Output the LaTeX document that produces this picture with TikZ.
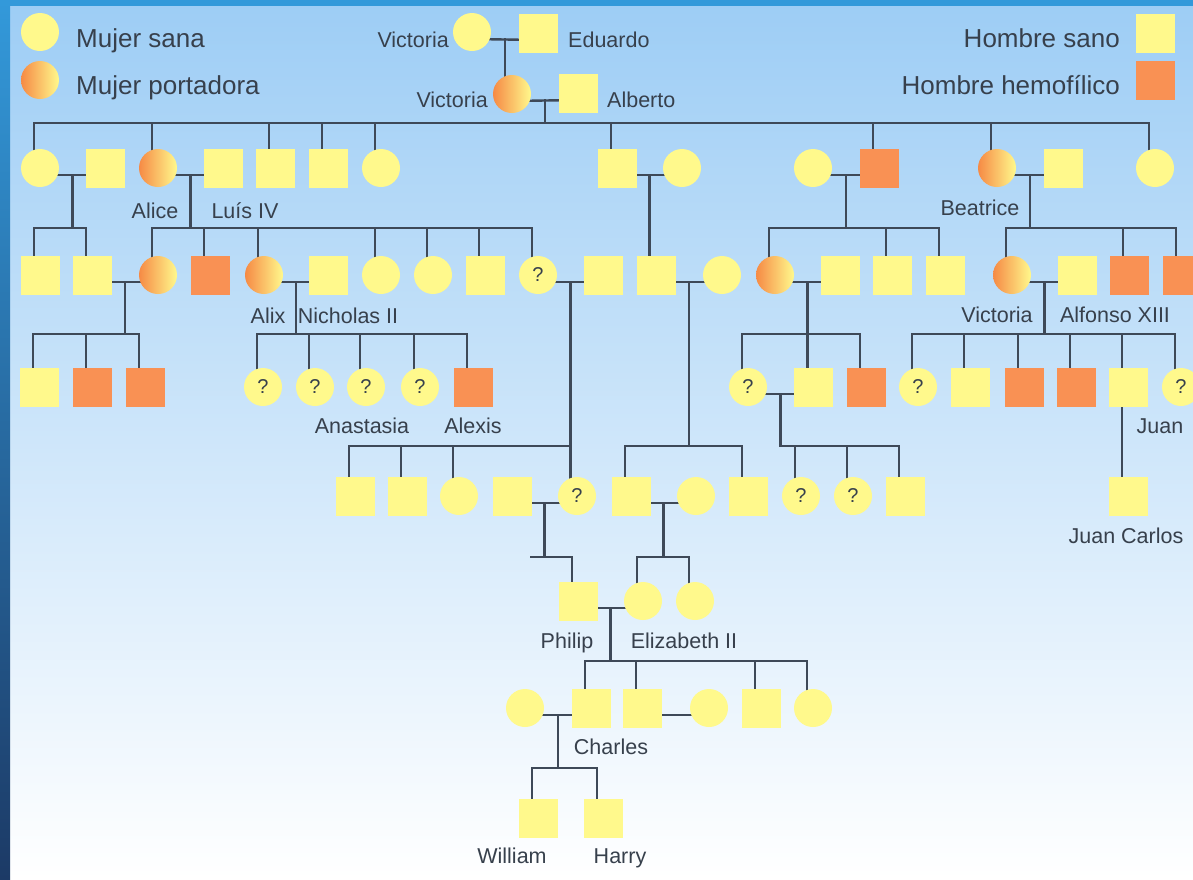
\documentclass[tikz,border=0pt]{standalone}
\usepackage{fontspec}
\setmainfont{Liberation Sans}
\usetikzlibrary{calc}
\pgfdeclarelayer{bg}
\pgfsetlayers{bg,main}
\definecolor{yel}{HTML}{FFF98C}
\definecolor{ora}{HTML}{F99154}
\definecolor{orc}{HTML}{F68A45}
\definecolor{lin}{HTML}{3E4958}
\definecolor{txt}{HTML}{37404C}
\definecolor{sky}{HTML}{9DCDF5}
\definecolor{bord}{HTML}{3399DA}
\definecolor{navy}{HTML}{1C3A66}
\tikzset{
 sh/.style={inner sep=0pt, outer sep=0pt, draw=none},
 sqY/.style={sh, rectangle, minimum size=39pt, fill=yel},
 sqO/.style={sh, rectangle, minimum size=39pt, fill=ora},
 cY/.style={sh, circle, minimum size=38pt, fill=yel},
 cC/.style={sh, circle, minimum size=38pt, left color=orc, right color=yel},
 cQ/.style={cY, font=\fontsize{20pt}{22pt}\selectfont, text=txt},
 lbl/.style={inner sep=0pt, text=txt, font=\fontsize{21.5pt}{24pt}\selectfont},
 leg/.style={inner sep=0pt, text=txt, font=\fontsize{26pt}{30pt}\selectfont},
 ln/.style={draw=lin, line width=2.4pt, line cap=rect},
}
\newcommand\dropl[2]{\draw[ln] ($(#1)+(-6,0)$) -- ($(#1 |- #2)+(-6,0)$);}
\newcommand\barl[3]{\draw[ln] ($(#1 |- #3)+(-6,0)$) -- ($(#2 |- #3)+(-6,0)$);}
\newcommand\mrg[2]{\draw[ln] ($(#1)+(0,7)$) -- ($(#2)+(0,7)$);}
\newcommand\famc[3]{\coordinate (#3) at ($(#1)!.5!(#2)+(0,7)$);}
\begin{document}
\begin{tikzpicture}[x=1pt,y=-1pt]
\useasboundingbox (0,0) rectangle (1193,879);
% legend
\node[cY] (L1) at (40,32) {};
\node[cC] (L2) at (40,80) {};
\node[sqY] (L3) at (1155,33) {};
\node[sqO] (L4) at (1155,80) {};
\node[leg, anchor=base west] (t1) at (76,47) {Mujer sana};
\node[leg, anchor=base west] (t2) at (76,94) {Mujer portadora};
\node[leg, anchor=base east] (t3) at (1120,47) {Hombre sano};
\node[leg, anchor=base east] (t4) at (1120,94) {Hombre hemofílico};
% gen 0
\node[cY] (v0) at (472,32) {};
\node[sqY] (e0) at (538,33) {};
\node[lbl, anchor=base east] (n1) at (449,47) {Victoria};
\node[lbl, anchor=base west] (n2) at (568,47) {Eduardo};
% gen 1
\node[cC] (v1) at (512,94) {};
\node[sqY] (a1) at (578,93) {};
\node[lbl, anchor=base east] (n3) at (488,107) {Victoria};
\node[lbl, anchor=base west] (n4) at (607,107) {Alberto};
% gen 2
\node[cY] (g2a) at (40,168) {};
\node[sqY] (g2b) at (105,168) {};
\node[cC] (alice) at (158,168) {};
\node[sqY] (luis) at (223,168) {};
\node[sqY] (g2e) at (275,168) {};
\node[sqY] (g2f) at (328,168) {};
\node[cY] (g2g) at (381,168) {};
\node[sqY] (g2h) at (617,168) {};
\node[cY] (g2i) at (682,168) {};
\node[cY] (g2j) at (813,168) {};
\node[sqO] (leo) at (879,168) {};
\node[cC] (bea) at (997,168) {};
\node[sqY] (g2m) at (1063,168) {};
\node[cY] (g2n) at (1155,168) {};
\node[lbl, anchor=base] (n5) at (155,218) {Alice};
\node[lbl, anchor=base] (n6) at (245,218) {Luís IV};
\node[lbl, anchor=base] (n7) at (980,215) {Beatrice};
% gen 3
\node[sqY] (g3a) at (40,275) {};
\node[sqY] (g3b) at (92,275) {};
\node[cC] (g3c) at (158,275) {};
\node[sqO] (g3d) at (210,275) {};
\node[cC] (alix) at (264,275) {};
\node[sqY] (nich) at (328,275) {};
\node[cY] (g3g) at (381,275) {};
\node[cY] (g3h) at (433,275) {};
\node[sqY] (g3i) at (485,275) {};
\node[cQ] (g3j) at (538,275) {?};
\node[sqY] (g3k) at (603,275) {};
\node[sqY] (g3l) at (656,275) {};
\node[cY] (g3m) at (722,275) {};
\node[cC] (g3n) at (775,275) {};
\node[sqY] (g3o) at (840,275) {};
\node[sqY] (g3p) at (892,275) {};
\node[sqY] (g3q) at (945,275) {};
\node[cC] (vic3) at (1012,275) {};
\node[sqY] (alf) at (1077,275) {};
\node[sqO] (g3t) at (1129,275) {};
\node[sqO] (g3u) at (1182,275) {};
\node[lbl, anchor=base] (n8) at (268,323) {Alix};
\node[lbl, anchor=base] (n9) at (348,323) {Nicholas II};
\node[lbl, anchor=base] (n10) at (997,322) {Victoria};
\node[lbl, anchor=base] (n11) at (1115,322) {Alfonso XIII};
% gen 4
\node[sqY] (g4a) at (39,387) {};
\node[sqO] (g4b) at (92,387) {};
\node[sqO] (g4c) at (145,387) {};
\node[cQ] (g4d) at (263,387) {?};
\node[cQ] (g4e) at (315,387) {?};
\node[cQ] (g4f) at (366,387) {?};
\node[cQ] (g4g) at (420,387) {?};
\node[sqO] (alexis) at (473,387) {};
\node[cQ] (g4i) at (748,387) {?};
\node[sqY] (g4j) at (813,387) {};
\node[sqO] (g4k) at (866,387) {};
\node[cQ] (g4l) at (918,387) {?};
\node[sqY] (g4m) at (970,387) {};
\node[sqO] (g4n) at (1024,387) {};
\node[sqO] (g4o) at (1076,387) {};
\node[sqY] (juan) at (1128,387) {};
\node[cQ] (g4q) at (1181,387) {?};
\node[lbl, anchor=base] (n12) at (362,433) {Anastasia};
\node[lbl, anchor=base] (n13) at (473,433) {Alexis};
\node[lbl, anchor=base] (n14) at (1160,433) {Juan};
% gen 5
\node[sqY] (g5a) at (355,496) {};
\node[sqY] (g5b) at (407,496) {};
\node[cY] (g5c) at (459,496) {};
\node[sqY] (g5d) at (512,496) {};
\node[cQ] (g5e) at (577,496) {?};
\node[sqY] (g5f) at (631,496) {};
\node[cY] (g5g) at (696,496) {};
\node[sqY] (g5h) at (748,496) {};
\node[cQ] (g5i) at (801,496) {?};
\node[cQ] (g5j) at (853,496) {?};
\node[sqY] (g5k) at (905,496) {};
\node[sqY] (jc) at (1128,496) {};
\node[lbl, anchor=base] (n15) at (1126,543) {Juan Carlos};
% gen 6
\node[sqY] (phil) at (578,601) {};
\node[cY] (eliz) at (643,601) {};
\node[cY] (marg) at (695,601) {};
\node[lbl, anchor=base] (n16) at (567,648) {Philip};
\node[lbl, anchor=base] (n17) at (684,648) {Elizabeth II};
% gen 7
\node[cY] (diana) at (525,708) {};
\node[sqY] (charles) at (591,708) {};
\node[sqY] (g7c) at (642,708) {};
\node[cY] (g7d) at (709,708) {};
\node[sqY] (g7e) at (761,708) {};
\node[cY] (g7f) at (813,708) {};
\node[lbl, anchor=base] (n18) at (611,754) {Charles};
% gen 8
\node[sqY] (will) at (538,818) {};
\node[sqY] (harry) at (603,818) {};
\node[lbl, anchor=base] (n19) at (512,863) {William};
\node[lbl, anchor=base] (n20) at (620,863) {Harry};
\begin{pgfonlayer}{bg}
\shade[top color=sky, bottom color=white] (0,0) rectangle (1193,879);
\shade[top color=bord, bottom color=navy] (0,0) rectangle (10,879);
\fill[bord] (0,0) rectangle (1193,6);
\coordinate (B1) at (0,123);
\coordinate (B2) at (0,228);
\coordinate (B3) at (0,334);
\coordinate (B4) at (0,446);
\coordinate (B5) at (0,557);
\coordinate (B6) at (0,661);
\coordinate (B7) at (0,768);
\coordinate (stub) at (531,557);
% gen 0
\mrg{v0}{e0} \famc{v0}{e0}{F0} \draw[ln] (F0) -- (F0 |- v1);
% gen 1
\mrg{v1}{a1} \famc{v1}{a1}{F1} \draw[ln] (F1) -- (F1 |- B1);
\barl{g2a}{g2n}{B1}
\dropl{g2a}{B1} \dropl{alice}{B1} \dropl{g2e}{B1} \dropl{g2f}{B1} \dropl{g2g}{B1}
\dropl{g2h}{B1} \dropl{leo}{B1} \dropl{bea}{B1} \dropl{g2n}{B1}
% gen 2
\mrg{g2a}{g2b} \famc{g2a}{g2b}{F2a} \draw[ln] (F2a) -- (F2a |- B2);
\barl{g3a}{g3b}{B2} \dropl{g3a}{B2} \dropl{g3b}{B2}
\mrg{alice}{luis} \famc{alice}{luis}{F2b} \draw[ln] (F2b) -- (F2b |- B2);
\barl{g3c}{g3j}{B2}
\dropl{g3c}{B2} \dropl{g3d}{B2} \dropl{alix}{B2} \dropl{g3g}{B2} \dropl{g3h}{B2} \dropl{g3i}{B2} \dropl{g3j}{B2}
\mrg{g2h}{g2i} \famc{g2h}{g2i}{F2c} \draw[ln] (F2c) -- (F2c |- g3l);
\mrg{g2j}{leo} \famc{g2j}{leo}{F2d} \draw[ln] (F2d) -- (F2d |- B2);
\barl{g3n}{g3q}{B2} \dropl{g3n}{B2} \dropl{g3p}{B2} \dropl{g3q}{B2}
\mrg{bea}{g2m} \famc{bea}{g2m}{F2e} \draw[ln] (F2e) -- (F2e |- B2);
\barl{vic3}{g3u}{B2} \dropl{vic3}{B2} \dropl{g3t}{B2} \dropl{g3u}{B2}
% gen 3
\mrg{g3b}{g3c} \famc{g3b}{g3c}{F3a} \draw[ln] (F3a) -- (F3a |- B3);
\barl{g4a}{g4c}{B3} \dropl{g4a}{B3} \dropl{g4b}{B3} \dropl{g4c}{B3}
\mrg{alix}{nich} \famc{alix}{nich}{F3b} \draw[ln] (F3b) -- (F3b |- B3);
\barl{g4d}{alexis}{B3}
\dropl{g4d}{B3} \dropl{g4e}{B3} \dropl{g4f}{B3} \dropl{g4g}{B3} \dropl{alexis}{B3}
\mrg{g3j}{g3k} \famc{g3j}{g3k}{F3c} \draw[ln] (F3c) -- (F3c |- g5e);
\draw[ln] ($(g5a |- B4)+(-6,0)$) -- (F3c |- B4);
\dropl{g5a}{B4} \dropl{g5b}{B4} \dropl{g5c}{B4}
\mrg{g3l}{g3m} \famc{g3l}{g3m}{F3d} \draw[ln] (F3d) -- (F3d |- B4);
\barl{g5f}{g5h}{B4} \dropl{g5f}{B4} \dropl{g5h}{B4}
\mrg{g3n}{g3o} \famc{g3n}{g3o}{F3e} \draw[ln] (F3e) -- (F3e |- g4j);
\barl{g4i}{g4k}{B3} \dropl{g4i}{B3} \dropl{g4k}{B3}
\mrg{vic3}{alf} \famc{vic3}{alf}{F3f} \draw[ln] (F3f) -- (F3f |- B3);
\barl{g4l}{g4q}{B3}
\dropl{g4l}{B3} \dropl{g4m}{B3} \dropl{g4n}{B3} \dropl{g4o}{B3} \dropl{juan}{B3} \dropl{g4q}{B3}
% gen 4
\mrg{g4i}{g4j} \famc{g4i}{g4j}{F4a} \draw[ln] (F4a) -- (F4a |- B4);
\draw[ln] (F4a |- B4) -- ($(g5k |- B4)+(-6,0)$);
\dropl{g5i}{B4} \dropl{g5j}{B4} \dropl{g5k}{B4}
\draw[ln] ($(juan)+(-6,0)$) -- ($(jc)+(-6,0)$);
% gen 5
\mrg{g5d}{g5e} \famc{g5d}{g5e}{F5a} \draw[ln] (F5a) -- (F5a |- B5);
\draw[ln] (stub) -- ($(phil |- B5)+(-6,0)$); \dropl{phil}{B5}
\mrg{g5f}{g5g} \famc{g5f}{g5g}{F5b} \draw[ln] (F5b) -- (F5b |- B5);
\barl{eliz}{marg}{B5} \dropl{eliz}{B5} \dropl{marg}{B5}
% gen 6
\mrg{phil}{eliz} \famc{phil}{eliz}{F6} \draw[ln] (F6) -- (F6 |- B6);
\barl{charles}{g7f}{B6}
\dropl{charles}{B6} \dropl{g7c}{B6} \dropl{g7e}{B6} \dropl{g7f}{B6}
% gen 7
\mrg{diana}{charles} \famc{diana}{charles}{F7} \draw[ln] (F7) -- (F7 |- B7);
\barl{will}{harry}{B7} \dropl{will}{B7} \dropl{harry}{B7}
\mrg{g7c}{g7d}
\end{pgfonlayer}
\end{tikzpicture}
\end{document}
